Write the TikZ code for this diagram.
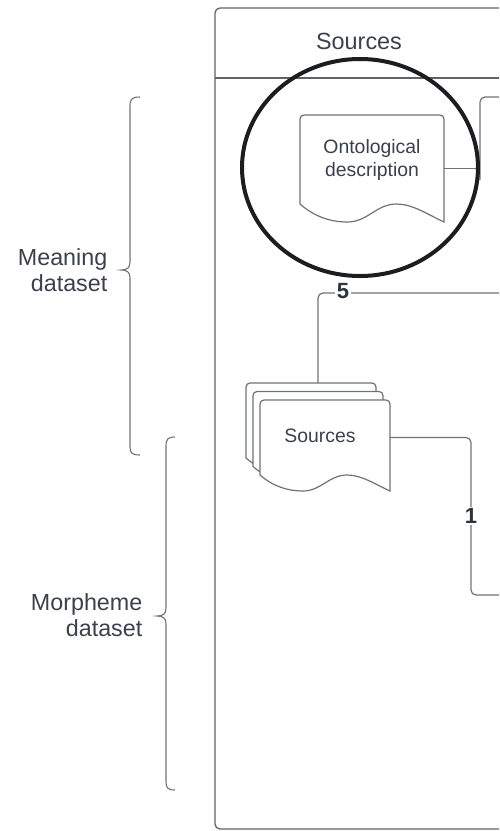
\documentclass[tikz,border=0pt]{standalone}
\usepackage{fontspec}
\setmainfont{Liberation Sans}
\begin{document}
\begin{tikzpicture}[x=1pt,y=-1pt,
  lanecol/.style={draw=lanegrey, line width=1.3pt},
  docline/.style={draw=shapegrey, line width=1.2pt, fill=white},
  conn/.style={draw=shapegrey, line width=1.2pt, rounded corners=5pt},
  brace/.style={draw=shapegrey, line width=1.1pt},
  doctext/.style={text=ink, font=\fontsize{19.4}{23}\selectfont, align=center, inner sep=0pt},
  sidetext/.style={text=ink, font=\fontsize{23.3}{25.5}\selectfont, align=right, inner sep=0pt, anchor=east},
  num/.style={text=ink!80!black, font=\fontsize{22}{22}\selectfont\bfseries, fill=white, inner sep=1.5pt},
  ghost/.style={inner sep=0pt, outer sep=0pt, anchor=north west},
  ring/.style={draw=ringblack, line width=4pt}]
\definecolor{ink}{HTML}{3A414A}
\definecolor{lanegrey}{HTML}{5E636B}
\definecolor{shapegrey}{HTML}{6E737A}
\definecolor{ringblack}{HTML}{1B1D20}

% document symbol: x, y (top left), width, left height, wave depth
\newcommand\docsymbol[5]{%
  \path[docline] (#1,#2+#4) [rounded corners=4pt]-- (#1,#2) -- (#1+#3,#2)
    [sharp corners]-- (#1+#3,#2+#4+#5)
    .. controls (#1+0.88*#3,#2+#4+0.55*#5) and (#1+0.78*#3,#2+#4) .. (#1+0.67*#3,#2+#4)
    .. controls (#1+0.53*#3,#2+#4) and (#1+0.47*#3,#2+#4+#5) .. (#1+0.33*#3,#2+#4+#5)
    .. controls (#1+0.21*#3,#2+#4+#5) and (#1+0.1*#3,#2+#4+0.7*#5) .. (#1,#2+#4)
    -- cycle;}

\useasboundingbox (0,0) rectangle (499,831);
\clip (0,0) rectangle (499,831);

% swimlane
\draw[lanecol, rounded corners=5pt] (530,8) -- (215,8) -- (215,829) -- (530,829);
\draw[lanecol] (215,78) -- (530,78);
\node[text=ink, font=\fontsize{23.4}{26}\selectfont, inner sep=0pt] (lanetitle) at (359,41) {Sources};

% braces on the left
\draw[brace] (140,97) .. controls (132,97) and (130,99) .. (130,106) -- (130,262)
  .. controls (130,268) and (127,270) .. (121,270)
  .. controls (127,270) and (130,272) .. (130,278) -- (130,447)
  .. controls (130,453) and (132,455) .. (140,455);
\draw[brace] (175,437) .. controls (168,437) and (166,439) .. (166,446) -- (166,608)
  .. controls (166,614) and (163,616) .. (157,616)
  .. controls (163,616) and (166,618) .. (166,624) -- (166,782)
  .. controls (166,788) and (168,790) .. (175,790);
\node[sidetext] (meaning) at (107.5,270) {Meaning\\dataset};
\node[sidetext] (morpheme) at (142.5,615) {Morpheme\\dataset};

% partly shown box on the right
\coordinate (boxtop) at (530,97);
\coordinate (boxleft) at (480,168.5);
\draw[docline, fill=none, rounded corners=5pt] (480,180) -- (480,97) -- (boxtop);

% ontological description
\docsymbol{300}{115}{144}{89}{18}
\node[ghost, minimum width=144pt, minimum height=107pt] (ontdoc) at (300,115) {};
\node[doctext] (ont) at (372,160) {Ontological\\description};
\draw[conn] (ontdoc.east) -- (boxleft);

% stacked sources
\docsymbol{246}{383}{130}{75}{16}
\docsymbol{253}{391.5}{130}{75}{16}
\docsymbol{260}{400}{130}{75}{16}
\node[ghost, minimum width=144pt, minimum height=108pt] (stack) at (246,383) {};
\node[ghost, minimum width=130pt, minimum height=75pt] (srcfront) at (260,400) {};
\node[doctext] (src) at (320,436) {Sources};

% connectors
\coordinate (end5) at (530,293);
\coordinate (end1) at (530,595);
\draw[conn] (stack.north) |- (end5);
\draw[conn] (srcfront.east) -- ++(81,0) |- (end1);
\node[num] (five) at (343,291) {5};
\node[num] (one) at (471,516) {1};

% highlight ring
\draw[ring] (360,167.5) ellipse [x radius=118, y radius=108.5];
\end{tikzpicture}
\end{document}
